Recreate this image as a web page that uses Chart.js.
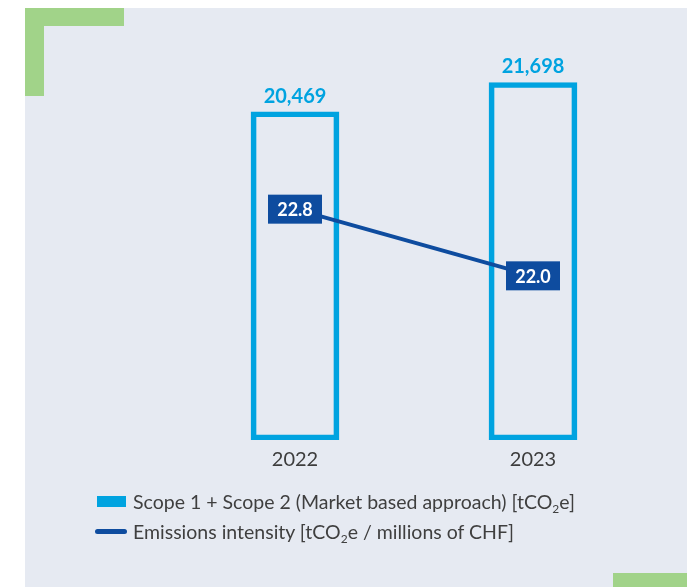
<!DOCTYPE html>
<html lang="en">
<head>
  <meta charset="UTF-8">
  <title>Scope 1 + 2 emissions</title>
  <script src="https://cdn.jsdelivr.net/npm/chart.js@4"></script>
  <style>
    body { margin: 0; background: #fff; font-family: 'Lato', sans-serif; }
    .panel { position: absolute; left: 25px; top: 8px; width: 662px; height: 579px; background: #e6eaf2; }
    .corner { position: absolute; background: #a1d389; }
    #chart { position: absolute; left: 0; top: 0; }
    .legend { position: absolute; left: 95px; top: 488px; color: #3f3f3f; font-size: 19.5px; font-weight: 400; }
    .legend .row { position: relative; height: 30px; line-height: 28px; padding-left: 38px; white-space: nowrap; }
    .legend .swatch { position: absolute; left: 2px; top: 8px; width: 29px; height: 11px; background: #00a3e0; }
    .legend .stroke { position: absolute; left: 0; top: 11px; width: 32px; height: 5px; border-radius: 3px; background: #0e4c9f; }
    .legend sub { font-size: 12px; vertical-align: -4px; line-height: 0; }
  </style>
</head>
<body>
  <div class="panel"></div>
  <div class="corner" style="left:25px;top:8px;width:99px;height:18px"></div>
  <div class="corner" style="left:25px;top:8px;width:19px;height:88px"></div>
  <div class="corner" style="left:613px;top:573px;width:74px;height:14px"></div>

  <canvas id="chart" width="687" height="587"></canvas>

  <div class="legend">
    <div class="row"><span class="swatch"></span>Scope 1 + Scope 2 (Market based approach) [tCO<sub>2</sub>e]</div>
    <div class="row"><span class="stroke"></span>Emissions intensity [tCO<sub>2</sub>e / millions of CHF]</div>
  </div>

  <script>
    const years = ['2022', '2023'];
    const scopeEmissions = [20469, 21698];      // tCO2e
    const emissionsIntensity = [22.8, 22.0];    // tCO2e / millions of CHF

    // hidden axis ranges
    const emissionsMin = 6700, emissionsMax = 23480;
    const intensityMin = 20.03, intensityMax = 24.83;

    const barBlue = '#00a3e0';
    const lineBlue = '#0e4c9f';

    // value labels above the bars and boxed labels on the intensity line
    const valueLabels = {
      id: 'valueLabels',
      afterDatasetsDraw(chart) {
        const ctx = chart.ctx;
        ctx.save();
        ctx.textAlign = 'center';

        chart.getDatasetMeta(1).data.forEach((bar, i) => {
          ctx.fillStyle = barBlue;
          ctx.font = 'bold 20px Lato, sans-serif';
          ctx.textBaseline = 'alphabetic';
          ctx.fillText(scopeEmissions[i].toLocaleString('en-US'), bar.x, bar.y - 9);
        });

        chart.getDatasetMeta(0).data.forEach((pt, i) => {
          const w = 54, h = 29;
          ctx.fillStyle = lineBlue;
          ctx.fillRect(pt.x - w / 2, pt.y - h / 2, w, h);
          ctx.fillStyle = '#fff';
          ctx.font = 'bold 18px Lato, sans-serif';
          ctx.textBaseline = 'middle';
          ctx.fillText(emissionsIntensity[i].toFixed(1), pt.x, pt.y + 1);
        });
        ctx.restore();
      }
    };

    new Chart(document.getElementById('chart'), {
      data: {
        labels: years,
        datasets: [
          {
            type: 'line',
            label: 'Emissions intensity',
            data: emissionsIntensity,
            yAxisID: 'yIntensity',
            borderColor: lineBlue,
            borderWidth: 4,
            pointRadius: 0,
            order: 0
          },
          {
            type: 'bar',
            label: 'Scope 1 + Scope 2',
            data: scopeEmissions,
            yAxisID: 'y',
            base: emissionsMin,
            backgroundColor: 'rgba(0,0,0,0)',
            borderColor: barBlue,
            borderWidth: 5,
            borderSkipped: false,
            barThickness: 88,
            order: 1
          }
        ]
      },
      options: {
        responsive: false,
        animation: false,
        layout: { padding: { left: 176, right: 35, top: 40, bottom: 107 } },
        plugins: { legend: { display: false }, tooltip: { enabled: false } },
        scales: {
          x: {
            grid: { display: false, drawTicks: false },
            border: { display: false },
            ticks: { color: '#3d3d3d', font: { family: 'Lato', size: 20 }, padding: 8 }
          },
          y: { display: false, min: emissionsMin, max: emissionsMax },
          yIntensity: { display: false, position: 'right', min: intensityMin, max: intensityMax }
        }
      },
      plugins: [valueLabels]
    });
  </script>
</body>
</html>
